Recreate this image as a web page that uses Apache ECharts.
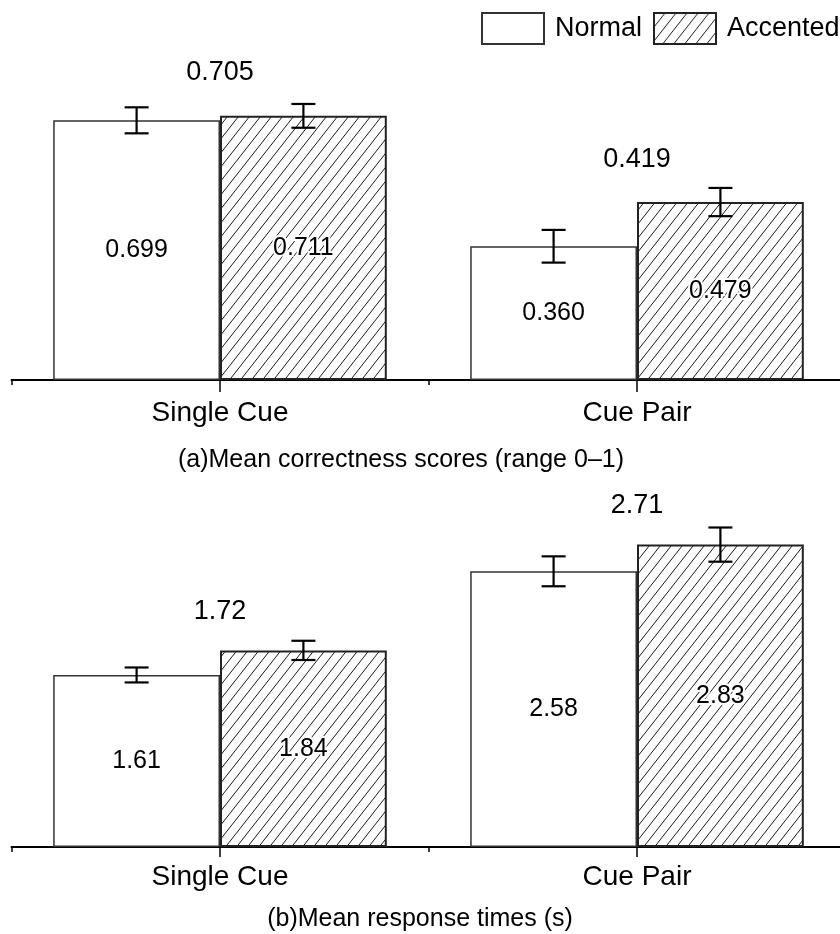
<!DOCTYPE html>
<html>
<head>
<meta charset="utf-8">
<title>Cue comprehension results</title>
<script src="https://cdn.jsdelivr.net/npm/echarts@6/dist/echarts.min.js"></script>
<style>
  html, body { margin: 0; padding: 0; background: #fff; }
  #chart { width: 840px; height: 934px; }
</style>
</head>
<body>
<div id="chart"></div>
<script>
// Categories shared by both panels
const categories = ['Single Cue', 'Cue Pair'];
const seriesNames = ['Normal', 'Accented'];

// (a) Mean correctness scores
const corrNormal = [0.699, 0.360];
const corrAccented = [0.711, 0.479];
const corrNormalErr = [0.035, 0.044];
const corrAccentedErr = [0.032, 0.038];
const corrGroupMean = [0.705, 0.419];

// (b) Mean response times (s)
const rtNormal = [1.61, 2.58];
const rtAccented = [1.84, 2.83];
const rtNormalErr = [0.07, 0.14];
const rtAccentedErr = [0.09, 0.16];
const rtGroupMean = [1.72, 2.71];

const FONT = '"Liberation Sans", Arial, Helvetica, sans-serif';

// Diagonal hatch fill for the Accented bars
function makeHatch() {
  const W = 11, H = 14;
  const c = document.createElement('canvas');
  c.width = W; c.height = H;
  const ctx = c.getContext('2d');
  ctx.fillStyle = '#fff';
  ctx.fillRect(0, 0, W, H);
  ctx.strokeStyle = '#1a1a1a';
  ctx.lineWidth = 1;
  for (let k = -1; k <= 1; k++) {
    ctx.beginPath();
    ctx.moveTo(k * W, H);
    ctx.lineTo(W + k * W, 0);
    ctx.stroke();
  }
  return c;
}
const hatch = { image: makeHatch(), repeat: 'repeat' };

const normalStyle = { color: '#fff', borderColor: '#333', borderWidth: 1.5 };
const accentedStyle = { color: hatch, borderColor: '#222', borderWidth: 2 };

function barSeries(name, data, axis, style, digits, halo) {
  return {
    type: 'bar', name: name, data: data,
    xAxisIndex: axis.x, yAxisIndex: axis.y,
    barWidth: '40%', barGap: '0%',
    itemStyle: style,
    label: {
      show: true, position: 'inside',
      formatter: p => p.value.toFixed(digits),
      fontFamily: FONT, fontSize: 25, color: '#000',
      textBorderColor: halo ? '#fff' : 'transparent',
      textBorderWidth: halo ? 4 : 0
    },
    emphasis: { disabled: true },
    z: 2
  };
}

function errorSeries(normal, nErr, accented, aErr, axis) {
  const data = [];
  normal.forEach((v, i) => data.push([i, v, nErr[i], -1]));
  accented.forEach((v, i) => data.push([i, v, aErr[i], 1]));
  return {
    type: 'custom', xAxisIndex: axis.x, yAxisIndex: axis.y, z: 5,
    silent: true,
    encode: { x: 0, y: 1 },
    data: data,
    renderItem: function (params, api) {
      const idx = api.value(0), v = api.value(1), e = api.value(2), side = api.value(3);
      const band = api.size([1, 0])[0];
      const cx = api.coord([idx, v])[0] + side * band * 0.2;
      const yTop = api.coord([idx, v + e])[1];
      const yBot = api.coord([idx, v - e])[1];
      const cap = 12;
      const st = { stroke: '#000', lineWidth: 2.2 };
      return {
        type: 'group',
        children: [
          { type: 'line', shape: { x1: cx, y1: yTop, x2: cx, y2: yBot }, style: st },
          { type: 'line', shape: { x1: cx - cap, y1: yTop, x2: cx + cap, y2: yTop }, style: st },
          { type: 'line', shape: { x1: cx - cap, y1: yBot, x2: cx + cap, y2: yBot }, style: st }
        ]
      };
    }
  };
}

// Group mean printed above each pair of bars
function groupMeanSeries(means, normal, accented, axis, digits, lift) {
  const data = means.map((m, i) => [i, Math.max(normal[i], accented[i]), m]);
  return {
    type: 'custom', xAxisIndex: axis.x, yAxisIndex: axis.y, z: 6,
    silent: true,
    encode: { x: 0, y: 1 },
    data: data,
    renderItem: function (params, api) {
      const p = api.coord([api.value(0), api.value(1)]);
      return {
        type: 'text',
        x: p[0], y: p[1] - lift,
        style: {
          text: api.value(2).toFixed(digits),
          textAlign: 'center', textVerticalAlign: 'middle',
          fontFamily: FONT, fontSize: 27, fill: '#000'
        }
      };
    }
  };
}

function mainXAxis(gridIndex, margin) {
  return {
    type: 'category', gridIndex: gridIndex, data: categories, position: 'bottom',
    axisLine: { show: true, lineStyle: { color: '#000', width: 2 } },
    axisTick: { show: true, alignWithLabel: false, length: 5, lineStyle: { color: '#000', width: 1.5 } },
    axisLabel: { fontFamily: FONT, fontSize: 28, color: '#000', margin: margin },
    splitLine: { show: false }
  };
}
function centerTickAxis(gridIndex, len) {
  return {
    type: 'category', gridIndex: gridIndex, data: categories, position: 'bottom',
    axisLine: { show: false },
    axisTick: { show: true, alignWithLabel: true, length: len, lineStyle: { color: '#000', width: 1.5 } },
    axisLabel: { show: false },
    splitLine: { show: false }
  };
}

const panelA = { x: 0, y: 0 };
const panelB = { x: 2, y: 1 };

const option = {
  animation: false,
  backgroundColor: '#fff',
  textStyle: { fontFamily: FONT },
  legend: {
    data: seriesNames,
    left: 476, top: 7, width: 700,
    orient: 'horizontal',
    icon: 'rect',
    itemWidth: 62, itemHeight: 31, itemGap: 11,
    selectedMode: false,
    textStyle: { fontFamily: FONT, fontSize: 27, color: '#000', padding: [0, 0, 0, 6] }
  },
  grid: [
    { left: 11.5, width: 834, top: 8.5, height: 371.5, outerBoundsMode: 'none', containLabel: false },
    { left: 11.5, width: 834, top: 473, height: 374, outerBoundsMode: 'none', containLabel: false }
  ],
  xAxis: [
    mainXAxis(0, 19), centerTickAxis(0, 12),
    mainXAxis(1, 16), centerTickAxis(1, 10)
  ],
  yAxis: [
    { type: 'value', gridIndex: 0, min: 0, max: 1, show: false, splitLine: { show: false } },
    { type: 'value', gridIndex: 1, min: 0, max: 3.5, show: false, splitLine: { show: false } }
  ],
  series: [
    barSeries('Normal', corrNormal, panelA, normalStyle, 3, false),
    barSeries('Accented', corrAccented, panelA, accentedStyle, 3, true),
    errorSeries(corrNormal, corrNormalErr, corrAccented, corrAccentedErr, panelA),
    groupMeanSeries(corrGroupMean, corrNormal, corrAccented, panelA, 3, 43),
    barSeries('Normal', rtNormal, panelB, normalStyle, 2, false),
    barSeries('Accented', rtAccented, panelB, accentedStyle, 2, true),
    errorSeries(rtNormal, rtNormalErr, rtAccented, rtAccentedErr, panelB),
    groupMeanSeries(rtGroupMean, rtNormal, rtAccented, panelB, 2, 39)
  ],
  graphic: [
    {
      type: 'text', x: 401, y: 460,
      style: { text: '(a)Mean correctness scores (range 0\u20131)', textAlign: 'center', textVerticalAlign: 'middle',
               fontFamily: FONT, fontSize: 25, fill: '#000' }
    },
    {
      type: 'text', x: 420, y: 919,
      style: { text: '(b)Mean response times (s)', textAlign: 'center', textVerticalAlign: 'middle',
               fontFamily: FONT, fontSize: 25, fill: '#000' }
    }
  ]
};

const chart = echarts.init(document.getElementById('chart'), null, { renderer: 'canvas' });
chart.setOption(option);
</script>
</body>
</html>
